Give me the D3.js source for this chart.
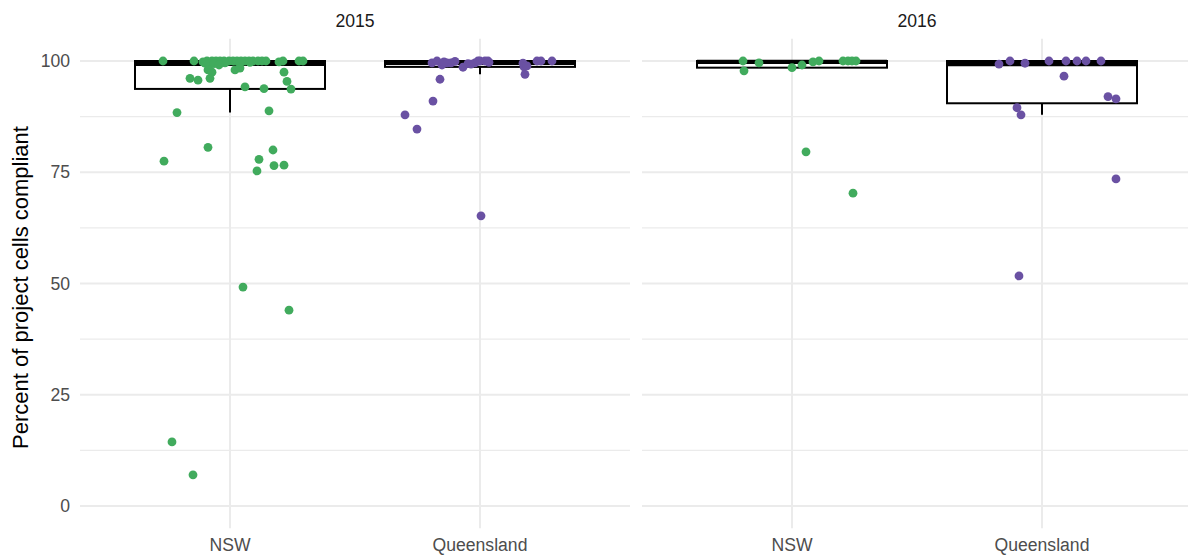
<!DOCTYPE html>
<html>
<head>
<meta charset="utf-8">
<script src="https://cdn.jsdelivr.net/npm/d3@7"></script>
<style>
  body { margin: 0; background: #ffffff; }
  text { font-family: "Liberation Sans", Arial, Helvetica, sans-serif; }
</style>
</head>
<body>
<svg id="chart" width="1188" height="556"></svg>
<script>
// Facets and categories
const years = ["2015", "2016"];
const regions = ["NSW", "Queensland"];
const yTicks = [0, 25, 50, 75, 100];
const yMinorTicks = [12.5, 37.5, 62.5, 87.5];
const yTitle = "Percent of project cells compliant";

// Percent of project cells compliant, per project, with horizontal jitter (category units)
const nsw2015Values = [100, 100, 99.8, 100, 100, 100, 100, 100, 100, 100, 100, 100, 100, 100, 100, 100, 100, 100,
  99.8, 100, 100, 100, 99.5, 99.3, 99.6, 99.7, 99.5, 99.4, 99.1, 98, 98.4, 98, 97.5, 97.5, 96.1, 95.7, 96.1, 95.4,
  94.2, 93.7, 93.8, 88.4, 88.8, 80.6, 77.5, 80.0, 77.9, 76.5, 76.6, 75.3, 49.2, 44.0, 14.4, 7.0];
const nsw2015Jitter = [-0.268, -0.144, -0.108, -0.092, -0.072, -0.056, -0.04, -0.024, -0.004, 0.012, 0.028, 0.044,
  0.06, 0.076, 0.092, 0.112, 0.128, 0.144, 0.196, 0.212, 0.276, 0.292, 0.04, -0.08, -0.02, 0.08, -0.1, -0.064,
  -0.044, 0.02, 0.04, -0.088, -0.072, 0.216, -0.16, -0.128, -0.08, 0.228, 0.06, 0.244, 0.136, -0.212, 0.156,
  -0.088, -0.264, 0.172, 0.116, 0.176, 0.216, 0.108, 0.052, 0.236, -0.232, -0.148];

const qld2015Values = [99.6, 100, 99.1, 99.6, 99.6, 95.9, 91.0, 87.9, 84.7, 65.2, 98.6, 99.3, 99.6, 100, 100, 100,
  99.5, 98.7, 97.0, 100, 100, 100, 99.8, 99.9, 99.4, 99.7, 100, 98.9];
const qld2015Jitter = [-0.192, -0.172, -0.152, -0.132, -0.116, -0.16, -0.188, -0.3, -0.252, 0.004, -0.068, -0.036,
  -0.02, 0, 0.02, 0.032, 0.172, 0.176, 0.18, 0.228, 0.244, 0.288, -0.144, -0.1, -0.048, 0.036, -0.008, 0.188];

const nsw2016Values = [100, 97.8, 99.6, 98.5, 99.1, 99.8, 100, 100, 100, 100, 100, 79.6, 70.3];
const nsw2016Jitter = [-0.196, -0.192, -0.132, 0, 0.04, 0.084, 0.108, 0.204, 0.224, 0.24, 0.256, 0.056, 0.244];

const qld2016Values = [99.3, 100, 99.5, 100, 100, 100, 100, 100, 96.6, 92.0, 91.5, 89.5, 87.9, 73.5, 51.7];
const qld2016Jitter = [-0.172, -0.128, -0.068, 0.028, 0.096, 0.14, 0.176, 0.236, 0.088, 0.264, 0.296, -0.1,
  -0.084, 0.296, -0.092];

const regionColors = { "NSW": "#41AB5D", "Queensland": "#6A51A3" };

const groups = [
  { year: "2015", region: "NSW", values: nsw2015Values, jitter: nsw2015Jitter },
  { year: "2015", region: "Queensland", values: qld2015Values, jitter: qld2015Jitter },
  { year: "2016", region: "NSW", values: nsw2016Values, jitter: nsw2016Jitter },
  { year: "2016", region: "Queensland", values: qld2016Values, jitter: qld2016Jitter }
];

// Layout
const W = 1188, H = 556;
const panelTop = 38.75, panelBottom = 528.25;
const panelX = { "2015": [80, 630], "2016": [642, 1192] };
const boxWidth = 0.76;
const gridColor = "#EBEBEB";

const svg = d3.select("#chart");
svg.append("rect").attr("width", W).attr("height", H).attr("fill", "#ffffff");

const y = d3.scaleLinear().domain([-5, 105]).range([panelBottom, panelTop]);

function boxStats(values) {
  const s = values.slice().sort(d3.ascending);
  const q1 = d3.quantile(s, 0.25), med = d3.quantile(s, 0.5), q3 = d3.quantile(s, 0.75);
  const iqr = q3 - q1;
  const inside = s.filter(v => v >= q1 - 1.5 * iqr && v <= q3 + 1.5 * iqr);
  return { q1, med, q3, lo: d3.min(inside), hi: d3.max(inside) };
}

years.forEach(year => {
  const [x0, x1] = panelX[year];
  const x = d3.scaleLinear().domain([0.4, 2.6]).range([x0, x1]);
  const xPos = r => x(regions.indexOf(r) + 1);
  const g = svg.append("g");

  // Grid
  g.selectAll(".minor").data(yMinorTicks).join("line")
    .attr("x1", x0).attr("x2", x1).attr("y1", d => y(d)).attr("y2", d => y(d))
    .attr("stroke", gridColor).attr("stroke-width", 1.2);
  g.selectAll(".major").data(yTicks).join("line")
    .attr("x1", x0).attr("x2", x1).attr("y1", d => y(d)).attr("y2", d => y(d))
    .attr("stroke", gridColor).attr("stroke-width", 2);
  g.selectAll(".vmajor").data(regions).join("line")
    .attr("x1", d => xPos(d)).attr("x2", d => xPos(d)).attr("y1", panelTop).attr("y2", panelBottom)
    .attr("stroke", gridColor).attr("stroke-width", 2);

  // Strip label
  svg.append("text").attr("x", (x0 + x1) / 2).attr("y", 27)
    .attr("text-anchor", "middle").attr("font-size", 17.6).attr("fill", "#1A1A1A").text(year);

  // Category labels
  svg.selectAll(null).data(regions).join("text")
    .attr("x", d => xPos(d)).attr("y", 551)
    .attr("text-anchor", "middle").attr("font-size", 17.6).attr("fill", "#4D4D4D").text(d => d);

  const yearGroups = groups.filter(d => d.year === year);

  // Boxplots
  yearGroups.forEach(gr => {
    const st = boxStats(gr.values);
    const cx = xPos(gr.region);
    const half = (x(1 + boxWidth / 2) - x(1));
    g.append("line").attr("x1", cx).attr("x2", cx).attr("y1", y(st.q3)).attr("y2", y(st.hi))
      .attr("stroke", "#000").attr("stroke-width", 2);
    g.append("line").attr("x1", cx).attr("x2", cx).attr("y1", y(st.q1)).attr("y2", y(st.lo))
      .attr("stroke", "#000").attr("stroke-width", 2);
    g.append("rect").attr("x", cx - half).attr("width", 2 * half)
      .attr("y", y(st.q3)).attr("height", y(st.q1) - y(st.q3))
      .attr("fill", "#ffffff").attr("stroke", "#000").attr("stroke-width", 2);
    g.append("line").attr("x1", cx - half).attr("x2", cx + half).attr("y1", y(st.med)).attr("y2", y(st.med))
      .attr("stroke", "#000").attr("stroke-width", 4.2);
  });

  // Jittered points
  yearGroups.forEach(gr => {
    const base = regions.indexOf(gr.region) + 1;
    g.selectAll(null).data(gr.values.map((v, i) => ({ v, j: gr.jitter[i] }))).join("circle")
      .attr("cx", d => x(base + d.j)).attr("cy", d => y(d.v)).attr("r", 4.4)
      .attr("fill", regionColors[gr.region]);
  });
});

// Y axis labels
svg.selectAll(".ylab").data(yTicks).join("text")
  .attr("x", 70).attr("y", d => y(d)).attr("dy", "0.35em")
  .attr("text-anchor", "end").attr("font-size", 17.6).attr("fill", "#4D4D4D").text(d => d);

// Y axis title
svg.append("text")
  .attr("transform", `translate(28,${(panelTop + panelBottom) / 2 + 4}) rotate(-90)`)
  .attr("text-anchor", "middle").attr("font-size", 22).attr("fill", "#000").text(yTitle);
</script>
</body>
</html>
